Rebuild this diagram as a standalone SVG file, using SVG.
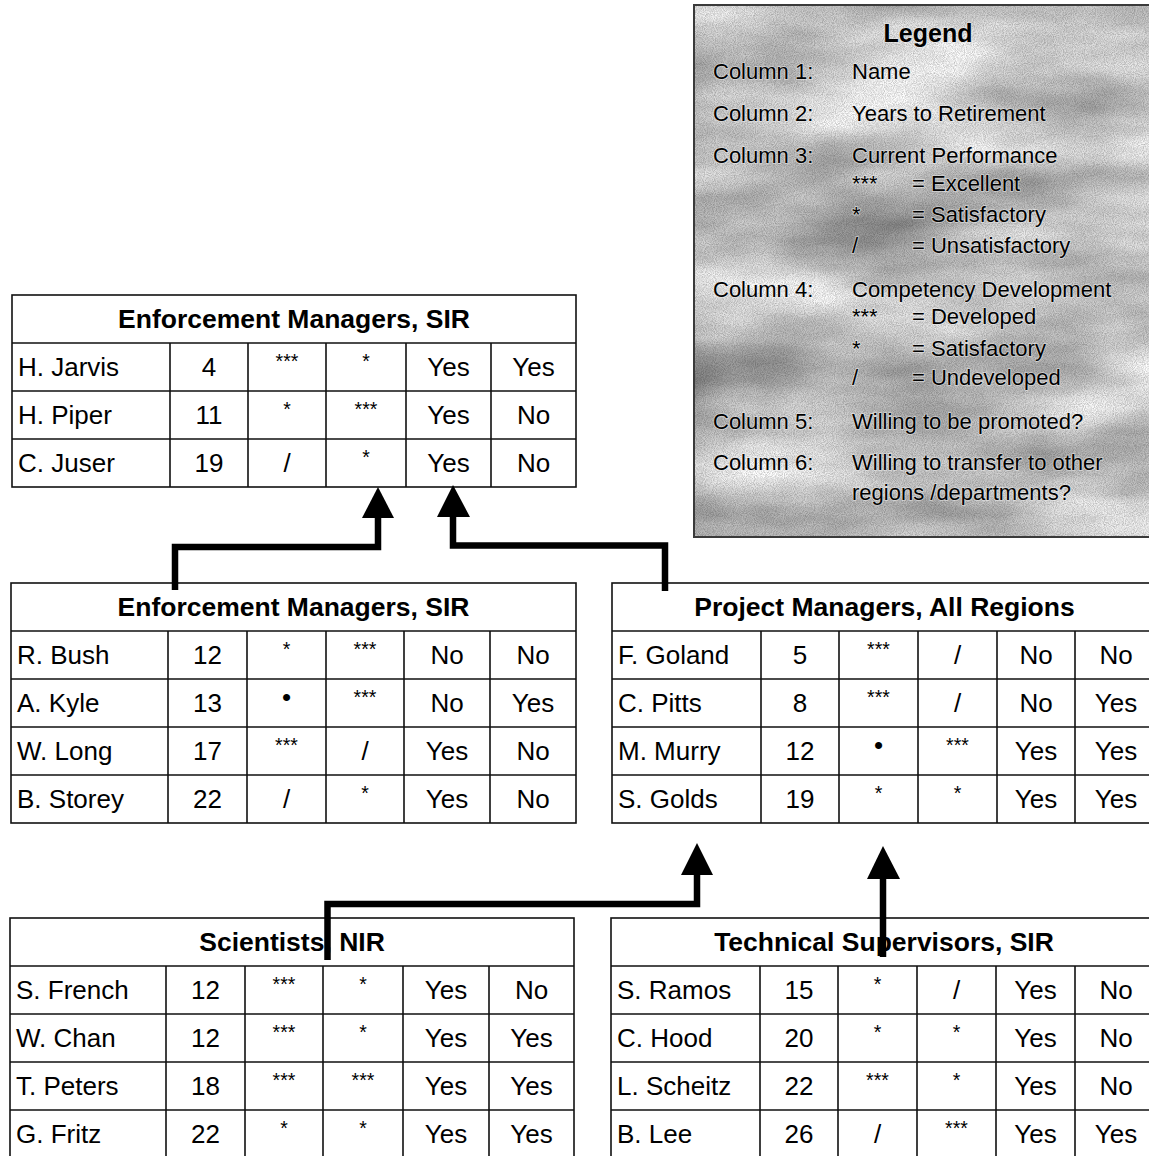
<svg xmlns="http://www.w3.org/2000/svg" width="1149" height="1156" viewBox="0 0 1149 1156">
<style>
.bg{fill:#fff}
.b{fill:none;stroke:#111;stroke-width:1.6}
text{font-family:"Liberation Sans",Arial,sans-serif;fill:#000}
.n{font-size:26px}
.v{font-size:26px;text-anchor:middle}
.a{font-size:19.5px;text-anchor:middle}
.h{font-size:26.5px;font-weight:bold;text-anchor:middle}
.lg{font-size:22px;fill:#000;stroke:#f2f2f2;stroke-width:1.6;stroke-opacity:0.6;paint-order:stroke}
.lgt{font-size:25px;font-weight:bold;text-anchor:middle;fill:#000;stroke:#f2f2f2;stroke-width:1.6;stroke-opacity:0.6;paint-order:stroke}
.cn{fill:none;stroke:#000;stroke-width:6.5;stroke-linejoin:miter}
.ah{fill:#000}
</style>
<defs>
<filter id="tex" x="0" y="0" width="1" height="1" color-interpolation-filters="sRGB">
<feTurbulence type="fractalNoise" baseFrequency="0.004 0.012" numOctaves="4" seed="11" result="big"/>
<feColorMatrix in="big" type="matrix" values="0.75 0 0 0 0.42  0.75 0 0 0 0.42  0.75 0 0 0 0.42  0 0 0 0 1" result="bigg"/>
<feTurbulence type="fractalNoise" baseFrequency="1.1" numOctaves="1" seed="3" result="fine"/>
<feColorMatrix in="fine" type="matrix" values="0 0 0 0 0  0 0 0 0 0  0 0 0 0 0  0.5 0 0 0 -0.17" result="dots"/>
<feComposite in="dots" in2="bigg" operator="over"/>
</filter>
</defs>
<rect class="bg" x="0" y="0" width="1149" height="1156"/>

<g id="legend">
<rect x="694" y="5" width="470" height="532" fill="#b8b8b8" filter="url(#tex)"/>
<rect x="694" y="5" width="470" height="532" fill="none" stroke="#3a3a3a" stroke-width="2"/>
<text class="lgt" x="928" y="42">Legend</text>
<text class="lg" x="713" y="79">Column 1:</text><text class="lg" x="852" y="79">Name</text>
<text class="lg" x="713" y="121">Column 2:</text><text class="lg" x="852" y="121">Years to Retirement</text>
<text class="lg" x="713" y="163">Column 3:</text><text class="lg" x="852" y="163">Current Performance</text>
<text class="lg" x="852" y="190.5">***</text><text class="lg" x="912" y="190.5">= Excellent</text>
<text class="lg" x="852" y="221.8">*</text><text class="lg" x="912" y="221.8">= Satisfactory</text>
<text class="lg" x="852" y="253">/</text><text class="lg" x="912" y="253">= Unsatisfactory</text>
<text class="lg" x="713" y="296.5">Column 4:</text><text class="lg" x="852" y="296.5">Competency Development</text>
<text class="lg" x="852" y="324">***</text><text class="lg" x="912" y="324">= Developed</text>
<text class="lg" x="852" y="355.6">*</text><text class="lg" x="912" y="355.6">= Satisfactory</text>
<text class="lg" x="852" y="385">/</text><text class="lg" x="912" y="385">= Undeveloped</text>
<text class="lg" x="713" y="428.6">Column 5:</text><text class="lg" x="852" y="428.6">Willing to be promoted?</text>
<text class="lg" x="713" y="470">Column 6:</text><text class="lg" x="852" y="470">Willing to transfer to other</text>
<text class="lg" x="852" y="499.8">regions /departments?</text>
</g>

<g id="table-enforcement-top">
<rect class="b" x="12" y="295" width="564" height="192"/>
<path class="b" d="M12 343H576M12 391H576M12 439H576M170 343V487M248 343V487M326 343V487M406 343V487M491 343V487"/>
<text class="h" x="294" y="328">Enforcement Managers, SIR</text>
<text class="n" x="18" y="376">H. Jarvis</text><text class="v" x="209" y="376">4</text><text class="a" x="287" y="368">***</text><text class="a" x="366" y="368">*</text><text class="v" x="448.5" y="376">Yes</text><text class="v" x="533.5" y="376">Yes</text>
<text class="n" x="18" y="424">H. Piper</text><text class="v" x="209" y="424">11</text><text class="a" x="287" y="416">*</text><text class="a" x="366" y="416">***</text><text class="v" x="448.5" y="424">Yes</text><text class="v" x="533.5" y="424">No</text>
<text class="n" x="18" y="472">C. Juser</text><text class="v" x="209" y="472">19</text><text class="v" x="287" y="472">/</text><text class="a" x="366" y="464">*</text><text class="v" x="448.5" y="472">Yes</text><text class="v" x="533.5" y="472">No</text>
</g>

<g id="table-enforcement-mid">
<rect class="b" x="11" y="583" width="565" height="240"/>
<path class="b" d="M11 631H576M11 679H576M11 727H576M11 775H576M168 631V823M247 631V823M326 631V823M404 631V823M490 631V823"/>
<text class="h" x="293.5" y="616">Enforcement Managers, SIR</text>
<text class="n" x="17" y="664">R. Bush</text><text class="v" x="207.5" y="664">12</text><text class="a" x="286.5" y="656">*</text><text class="a" x="365" y="656">***</text><text class="v" x="447" y="664">No</text><text class="v" x="533" y="664">No</text>
<text class="n" x="17" y="712">A. Kyle</text><text class="v" x="207.5" y="712">13</text><text class="v" x="286.5" y="706">•</text><text class="a" x="365" y="704">***</text><text class="v" x="447" y="712">No</text><text class="v" x="533" y="712">Yes</text>
<text class="n" x="17" y="760">W. Long</text><text class="v" x="207.5" y="760">17</text><text class="a" x="286.5" y="752">***</text><text class="v" x="365" y="760">/</text><text class="v" x="447" y="760">Yes</text><text class="v" x="533" y="760">No</text>
<text class="n" x="17" y="808">B. Storey</text><text class="v" x="207.5" y="808">22</text><text class="v" x="286.5" y="808">/</text><text class="a" x="365" y="800">*</text><text class="v" x="447" y="808">Yes</text><text class="v" x="533" y="808">No</text>
</g>

<g id="table-project-managers">
<rect class="b" x="612" y="583" width="545" height="240"/>
<path class="b" d="M612 631H1157M612 679H1157M612 727H1157M612 775H1157M761 631V823M839 631V823M918 631V823M997 631V823M1075 631V823"/>
<text class="h" x="884.5" y="616">Project Managers, All Regions</text>
<text class="n" x="618" y="664">F. Goland</text><text class="v" x="800" y="664">5</text><text class="a" x="878.5" y="656">***</text><text class="v" x="957.5" y="664">/</text><text class="v" x="1036" y="664">No</text><text class="v" x="1116" y="664">No</text>
<text class="n" x="618" y="712">C. Pitts</text><text class="v" x="800" y="712">8</text><text class="a" x="878.5" y="704">***</text><text class="v" x="957.5" y="712">/</text><text class="v" x="1036" y="712">No</text><text class="v" x="1116" y="712">Yes</text>
<text class="n" x="618" y="760">M. Murry</text><text class="v" x="800" y="760">12</text><text class="v" x="878.5" y="754">•</text><text class="a" x="957.5" y="752">***</text><text class="v" x="1036" y="760">Yes</text><text class="v" x="1116" y="760">Yes</text>
<text class="n" x="618" y="808">S. Golds</text><text class="v" x="800" y="808">19</text><text class="a" x="878.5" y="800">*</text><text class="a" x="957.5" y="800">*</text><text class="v" x="1036" y="808">Yes</text><text class="v" x="1116" y="808">Yes</text>
</g>

<g id="table-scientists">
<rect class="b" x="10" y="918" width="564" height="240"/>
<path class="b" d="M10 966H574M10 1014H574M10 1062H574M10 1110H574M166 966V1158M245 966V1158M323 966V1158M403 966V1158M489 966V1158"/>
<text class="h" x="292" y="951">Scientists, NIR</text>
<text class="n" x="16" y="999">S. French</text><text class="v" x="205.5" y="999">12</text><text class="a" x="284" y="991">***</text><text class="a" x="363" y="991">*</text><text class="v" x="446" y="999">Yes</text><text class="v" x="531.5" y="999">No</text>
<text class="n" x="16" y="1047">W. Chan</text><text class="v" x="205.5" y="1047">12</text><text class="a" x="284" y="1039">***</text><text class="a" x="363" y="1039">*</text><text class="v" x="446" y="1047">Yes</text><text class="v" x="531.5" y="1047">Yes</text>
<text class="n" x="16" y="1095">T. Peters</text><text class="v" x="205.5" y="1095">18</text><text class="a" x="284" y="1087">***</text><text class="a" x="363" y="1087">***</text><text class="v" x="446" y="1095">Yes</text><text class="v" x="531.5" y="1095">Yes</text>
<text class="n" x="16" y="1143">G. Fritz</text><text class="v" x="205.5" y="1143">22</text><text class="a" x="284" y="1135">*</text><text class="a" x="363" y="1135">*</text><text class="v" x="446" y="1143">Yes</text><text class="v" x="531.5" y="1143">Yes</text>
</g>

<g id="table-technical-supervisors">
<rect class="b" x="611" y="918" width="546" height="240"/>
<path class="b" d="M611 966H1157M611 1014H1157M611 1062H1157M611 1110H1157M760 966V1158M838 966V1158M917 966V1158M996 966V1158M1075 966V1158"/>
<text class="h" x="884" y="951">Technical Supervisors, SIR</text>
<text class="n" x="617" y="999">S. Ramos</text><text class="v" x="799" y="999">15</text><text class="a" x="877.5" y="991">*</text><text class="v" x="956.5" y="999">/</text><text class="v" x="1035.5" y="999">Yes</text><text class="v" x="1116" y="999">No</text>
<text class="n" x="617" y="1047">C. Hood</text><text class="v" x="799" y="1047">20</text><text class="a" x="877.5" y="1039">*</text><text class="a" x="956.5" y="1039">*</text><text class="v" x="1035.5" y="1047">Yes</text><text class="v" x="1116" y="1047">No</text>
<text class="n" x="617" y="1095">L. Scheitz</text><text class="v" x="799" y="1095">22</text><text class="a" x="877.5" y="1087">***</text><text class="a" x="956.5" y="1087">*</text><text class="v" x="1035.5" y="1095">Yes</text><text class="v" x="1116" y="1095">No</text>
<text class="n" x="617" y="1143">B. Lee</text><text class="v" x="799" y="1143">26</text><text class="v" x="877.5" y="1143">/</text><text class="a" x="956.5" y="1135">***</text><text class="v" x="1035.5" y="1143">Yes</text><text class="v" x="1116" y="1143">Yes</text>
</g>

<g id="connectors">
<path class="cn" d="M175 590V547H378V516"/>
<polygon class="ah" points="362,518 394,518 378,487"/>
<path class="cn" d="M665 591V545.5H453V515"/>
<polygon class="ah" points="437,517 470,517 453,485"/>
<path class="cn" d="M327.5 960V904H697V873"/>
<polygon class="ah" points="681,875 713,875 697,843"/>
<path class="cn" d="M883 957V877"/>
<polygon class="ah" points="867,879 900,879 883,846"/>
</g>
</svg>
